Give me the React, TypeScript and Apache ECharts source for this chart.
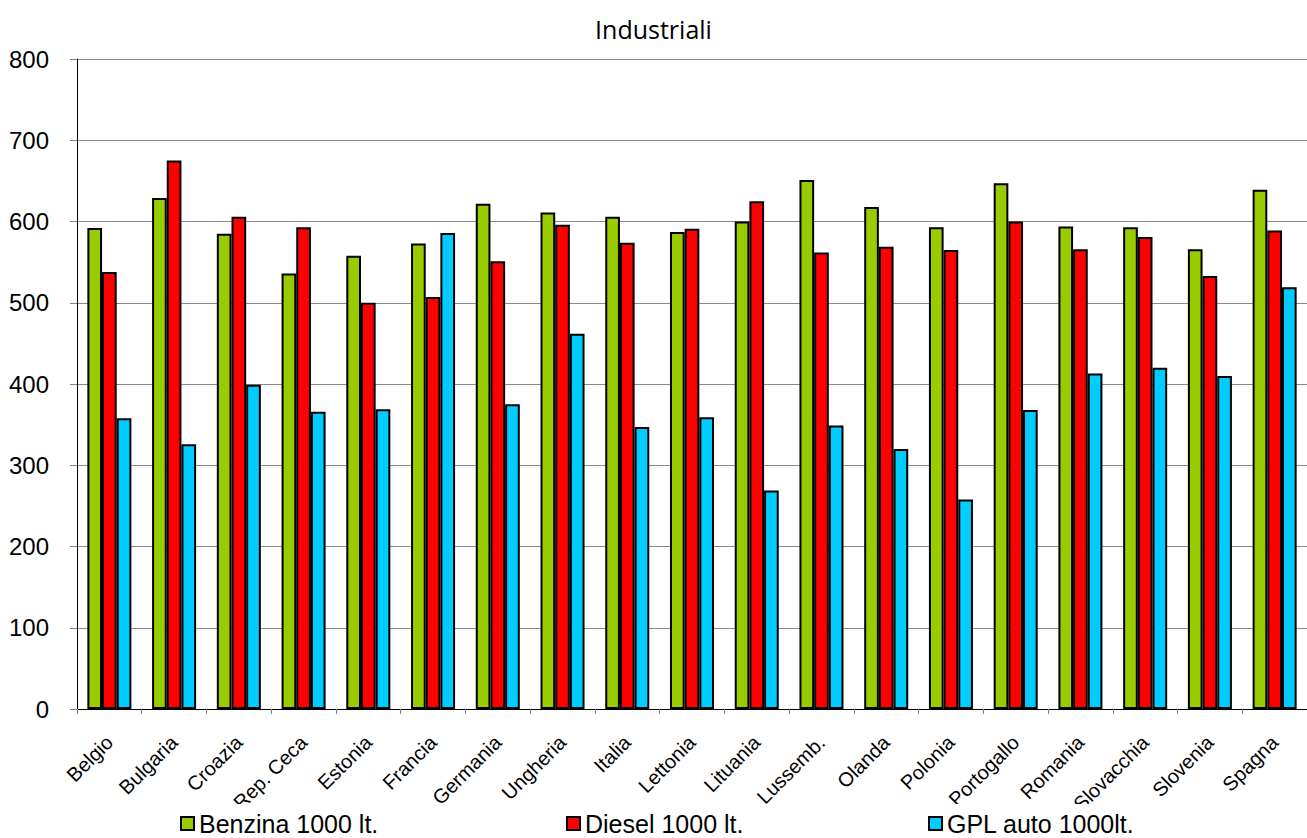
import React, { useEffect, useRef } from "react";
import * as echarts from "echarts";

const categories = ["Belgio", "Bulgaria", "Croazia", "Rep. Ceca", "Estonia", "Francia", "Germania", "Ungheria", "Italia", "Lettonia", "Lituania", "Lussemb.", "Olanda", "Polonia", "Portogallo", "Romania", "Slovacchia", "Slovenia", "Spagna"];
const benzina = [592, 629, 585, 536, 558, 573, 622, 611, 606, 587, 600, 651, 618, 593, 647, 594, 593, 566, 639];
const diesel = [538, 675, 606, 593, 500, 507, 551, 596, 574, 591, 625, 562, 569, 565, 600, 566, 581, 533, 589];
const gpl = [358, 326, 399, 366, 369, 586, 375, 462, 347, 359, 269, 349, 320, 258, 368, 413, 420, 410, 519];
const seriesNames = ["Benzina 1000 lt.", "Diesel 1000 lt.", "GPL auto 1000lt."];
const seriesColors = ["#99CC00", "#FF0000", "#00CCFF"];
const yTicks = { min: 0, max: 800, interval: 100 };

export default function App() {
  const ref = useRef<HTMLDivElement>(null);
  useEffect(() => {
    if (!ref.current) return;
    const chart = echarts.init(ref.current, null, { renderer: "svg" });
    const font = "'Liberation Sans', Arial, sans-serif";
    const data = [benzina, diesel, gpl];
    const legendLefts = [180, 566, 928];
    chart.setOption({
      animation: false,
      backgroundColor: "#ffffff",
      title: {
        text: "Industriali",
        left: "center",
        top: 11,
        textStyle: { fontFamily: "'Open Sans', sans-serif", fontSize: 25, fontWeight: "normal", color: "#000" },
      },
      grid: { left: 77, top: 59, right: -9, bottom: 129, containLabel: false },
      legend: seriesNames.map((n, i) => ({
        data: [n],
        left: legendLefts[i],
        top: 811,
        padding: 0,
        itemWidth: 13,
        itemHeight: 13,
        itemGap: 0,
        icon: "rect",
        z: 200,
        textStyle: { fontFamily: font, fontSize: 25, color: "#000", padding: [0, 0, 0, 0] },
      })),
      graphic: [
        { type: "rect", left: 0, top: 804, z: 100, shape: { width: 1307, height: 40 }, style: { fill: "#fff" } },
      ],
      xAxis: {
        type: "category",
        data: categories,
        axisLine: { lineStyle: { color: "#000", width: 1 } },
        axisTick: { show: true, length: 5, lineStyle: { color: "#808080" } },
        axisLabel: { interval: 0, rotate: 45, margin: 30, fontFamily: font, fontSize: 20, color: "#000" },
      },
      yAxis: {
        type: "value",
        min: yTicks.min,
        max: yTicks.max,
        interval: yTicks.interval,
        axisLine: { show: true, lineStyle: { color: "#000", width: 1 } },
        axisTick: { show: true, length: 7, lineStyle: { color: "#808080" } },
        axisLabel: { margin: 28, fontFamily: font, fontSize: 24, color: "#000" },
        splitLine: { lineStyle: { color: "#8a8a8a", width: 1 } },
      },
      series: seriesNames.map((n, i) => ({
        name: n,
        type: "bar",
        data: data[i],
        barGap: "0%",
        barCategoryGap: "32%",
        itemStyle: { color: seriesColors[i], borderColor: "#000", borderWidth: 2 },
      })),
    });
    return () => chart.dispose();
  }, []);
  return <div ref={ref} style={{ position: "fixed", left: 0, top: 0, width: 1307, height: 838 }} />;
}
